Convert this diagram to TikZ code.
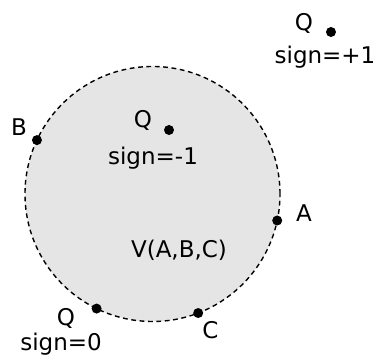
\documentclass[tikz,border=0pt]{standalone}
\usepackage{fontspec}
\setmainfont{DejaVu Sans}
\tikzset{
    pt/.style={circle, fill=black, inner sep=0pt, minimum size=5pt},
    lbl/.style={inner sep=0pt, anchor=base, font=\fontsize{11.5}{13}\selectfont},
}
\begin{document}
\begin{tikzpicture}[x=0.5pt,y=-0.5pt]
    \useasboundingbox (0,0) rectangle (376,356);
    % circumcircle of A, B, C
    \node[circle, draw, dash pattern=on 2.4pt off 1.8pt, line width=0.7pt,
          fill=black!10, minimum size=127.5pt, inner sep=0pt, outer sep=0pt] (vor) at (152.5,194) {};
    \node[lbl] (vlabel) at (179,258) {V(A,B,C)};

    % points on the circle
    \node[pt] (a) at (vor.-12.7) {};
    \node[pt] (b) at (vor.155.8) {};
    \node[pt] (c) at (vor.-69.1) {};
    \node[lbl] (alabel) at (304,222) {A};
    \node[lbl] (blabel) at (19,136) {B};
    \node[lbl] (clabel) at (210.5,339) {C};

    % test points Q
    \node[pt] (qout) at (331,32) {};
    \node[lbl] (qoutname) at (304,31) {Q};
    \node[lbl] (qoutsign) at (325,64) {sign=+1};

    \node[pt] (qin) at (169,130) {};
    \node[lbl] (qinname) at (143,128) {Q};
    \node[lbl] (qinsign) at (153,165) {sign=-1};

    \node[pt] (qon) at (vor.-116.2) {};
    \node[lbl] (qonname) at (66,326) {Q};
    \node[lbl] (qonsign) at (61,351) {sign=0};
\end{tikzpicture}
\end{document}
